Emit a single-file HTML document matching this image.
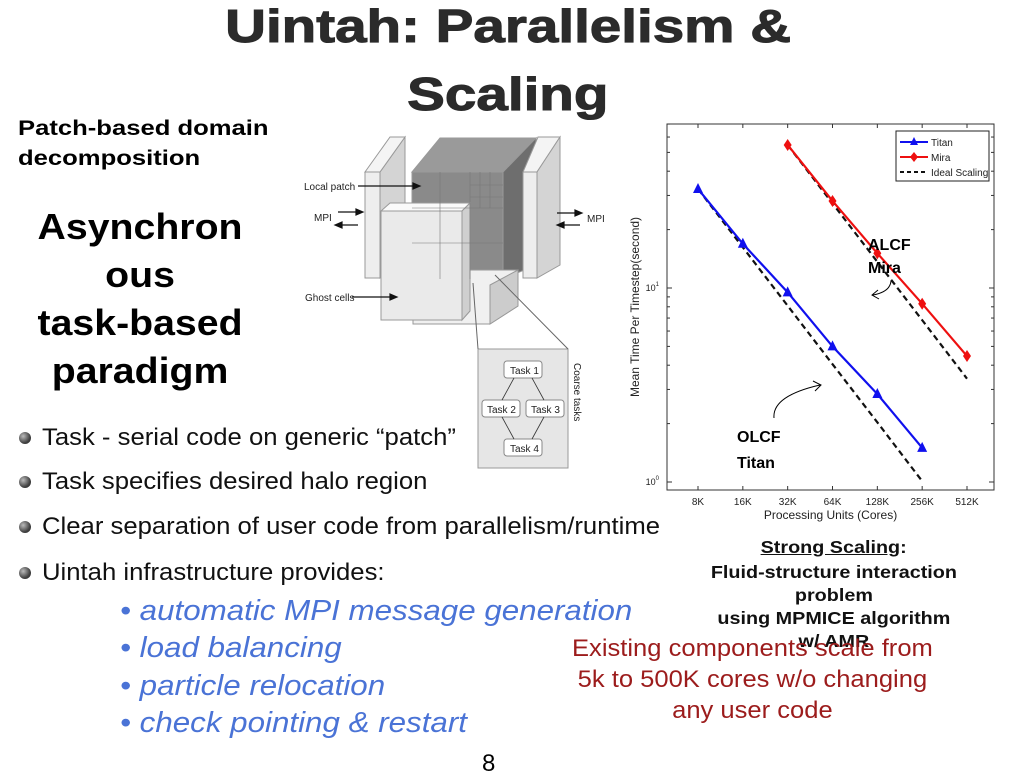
<!DOCTYPE html>
<html><head><meta charset="utf-8">
<style>
html,body{margin:0;padding:0;background:#fff;}
body{width:1024px;height:768px;position:relative;overflow:hidden;font-family:"Liberation Sans",Arial,sans-serif;}
.a{position:absolute;white-space:nowrap;}
.s{display:inline-block;}
.title{left:0;width:1016px;text-align:center;font-weight:bold;font-size:46px;color:#2b2b2b;-webkit-text-stroke:1px #2b2b2b;}
.title .s{transform:scaleX(1.23);transform-origin:center;}
.bul{font-size:24px;color:#111;left:42px;}
.bul .s{transform:scaleX(1.07);transform-origin:left;}
.dot{position:absolute;left:19px;width:12px;height:12px;border-radius:50%;background:radial-gradient(circle at 35% 35%,#bbb,#444 60%,#222);}
.sub{font-size:29px;font-style:italic;color:#4a73d6;left:120px;}
.sub .s{transform:scaleX(1.08);transform-origin:left;}
.cap{font-size:17.5px;font-weight:bold;color:#111;text-align:center;width:300px;left:684px;}
.cap .s{transform:scaleX(1.13);transform-origin:center;}
.red{font-size:24px;color:#9c1c1c;text-align:center;width:420px;left:542px;}
.red .s{transform:scaleX(1.065);transform-origin:center;}
</style></head><body>
<div class="a title" style="top:-1px"><span class="s">Uintah: Parallelism &amp;</span></div>
<div class="a title" style="top:67px"><span class="s">Scaling</span></div>
<div class="a" style="left:18px;top:114px;font-size:21px;font-weight:bold;line-height:30px"><span class="s" style="transform:scaleX(1.22);transform-origin:left">Patch-based domain<br>decomposition</span></div>
<div class="a" style="left:20px;width:240px;top:203px;font-size:36px;font-weight:bold;text-align:center;line-height:48px"><span class="s" style="transform:scaleX(1.09);transform-origin:center">Asynchron<br>ous<br>task-based<br>paradigm</span></div>

<div class="dot" style="top:432px"></div>
<div class="a bul" style="top:424px"><span class="s">Task - serial code on generic “patch”</span></div>
<div class="dot" style="top:476px"></div>
<div class="a bul" style="top:468px"><span class="s">Task specifies desired halo region</span></div>
<div class="dot" style="top:521px"></div>
<div class="a bul" style="top:513px"><span class="s">Clear separation of user code from parallelism/runtime</span></div>
<div class="dot" style="top:567px"></div>
<div class="a bul" style="top:559px"><span class="s">Uintah infrastructure provides:</span></div>
<div class="a sub" style="top:595px"><span class="s">• automatic MPI message generation</span></div>
<div class="a sub" style="top:632px"><span class="s">• load balancing</span></div>
<div class="a sub" style="top:670px"><span class="s">• particle relocation</span></div>
<div class="a sub" style="top:707px"><span class="s">• check pointing &amp; restart</span></div>
<div class="a" style="left:482px;top:750px;font-size:24px">8</div>

<div class="a cap" style="top:537px"><span class="s"><u>Strong Scaling</u>:</span></div>
<div class="a cap" style="top:561px;line-height:23px"><span class="s">Fluid-structure interaction<br>problem<br>using MPMICE algorithm<br>w/ AMR</span></div>
<div class="a red" style="top:633px;line-height:31px"><span class="s">Existing components scale from<br>5k to 500K cores w/o changing<br>any user code</span></div>

<svg class="a" style="left:290px;top:125px" width="330" height="350">
 <g stroke="#999" stroke-width="1">
  <polygon points="90,47 115,12 115,140 90,153" fill="#d4d4d4"/>
  <polygon points="75,47 90,47 90,153 75,153" fill="#eee"/>
  <polygon points="75,47 100,12 115,12 90,47" fill="#f4f4f4"/>
  <polygon points="122,47 150,13 246,13 213,47" fill="#9a9a9a"/>
  <polygon points="213,47 246,13 246,140 213,154" fill="#6e6e6e"/>
  <rect x="122" y="47" width="91" height="107" fill="#8a8a8a"/>
  <polygon points="123,145 228,145 228,181 200,199 123,199" fill="#f0f0f0"/>
  <polygon points="200,160 228,145 228,181 200,199" fill="#ccc"/>
  <polygon points="91,86 100,78 180,78 172,86" fill="#fafafa"/>
  <polygon points="172,86 180,78 180,186 172,195" fill="#cfcfcf"/>
  <rect x="91" y="86" width="81" height="109" fill="#eaeaea"/>
  <polygon points="233,47 248,12 270,12 247,47" fill="#f4f4f4"/>
  <polygon points="247,47 270,12 270,140 247,153" fill="#d4d4d4"/>
  <rect x="233" y="47" width="14" height="106" fill="#eee"/>
  <rect x="188" y="224" width="90" height="119" fill="#e6e6e6"/>
  <line x1="188" y1="224" x2="183" y2="158" stroke="#666"/>
  <line x1="278" y1="224" x2="205" y2="150" stroke="#666"/>
 </g>
 <g stroke="#777" stroke-width="0.6" fill="none">
  <path d="M150,47 V154 M180,47 V154 M122,83 H213 M122,118 H213 M180,60 H213 M180,72 H213 M190,47 V83 M200,47 V83"/>
 </g>
 <g fill="#fff" stroke="#888"><rect x="214" y="236" width="38" height="17" rx="3"/><rect x="192" y="275" width="38" height="17" rx="3"/><rect x="236" y="275" width="38" height="17" rx="3"/><rect x="214" y="314" width="38" height="17" rx="3"/></g>
 <g stroke="#333" stroke-width="0.8"><line x1="224" y1="253" x2="212" y2="275"/><line x1="242" y1="253" x2="254" y2="275"/><line x1="212" y1="292" x2="224" y2="314"/><line x1="254" y1="292" x2="242" y2="314"/></g>
 <g font-family="Liberation Sans" font-size="10" fill="#222">
  <text x="220" y="249">Task 1</text><text x="197" y="288">Task 2</text><text x="241" y="288">Task 3</text><text x="220" y="327">Task 4</text>
  <text x="14" y="65">Local patch</text><text x="24" y="96">MPI</text><text x="297" y="97">MPI</text><text x="15" y="176">Ghost cells</text>
  <text transform="translate(284,238) rotate(90)">Coarse tasks</text>
 </g>
 <g stroke="#111" stroke-width="1.2" fill="#111">
  <line x1="68" y1="61" x2="125" y2="61"/><polygon points="130,61 123,58 123,64"/>
  <line x1="48" y1="87" x2="68" y2="87"/><polygon points="73,87 66,84 66,90"/>
  <line x1="50" y1="100" x2="68" y2="100"/><polygon points="45,100 52,97 52,103"/>
  <line x1="267" y1="88" x2="287" y2="88"/><polygon points="292,88 285,85 285,91"/>
  <line x1="272" y1="100" x2="290" y2="100"/><polygon points="267,100 274,97 274,103"/>
  <line x1="62" y1="172" x2="102" y2="172"/><polygon points="107,172 100,169 100,175"/>
 </g>
</svg>

<svg id="chart" class="a" style="left:0;top:0" width="1024" height="768"></svg>
<script>
const categories=["8K","16K","32K","64K","128K","256K","512K"];
const titanValues=[32.4,16.9,9.5,5.0,2.84,1.50,null];
const miraValues=[null,null,54.6,28.1,15.1,8.3,4.46];
const idealTitan=[32.4,16.2,8.1,4.05,2.03,1.01,null];
const idealMira=[null,null,54.6,27.3,13.65,6.83,3.41];
const yTickExps=[0,1];
const NS="http://www.w3.org/2000/svg";
const svg=document.getElementById('chart');
const L=667,R=994,T=124,B=490;
const x0=698,dx=(967-698)/6;
const y0=482,dec=194;
function xs(i){return x0+i*dx;}
function ys(v){return y0-Math.log10(v)*dec;}
function mk(tag,attrs,parent){const e=document.createElementNS(NS,tag);for(const k in attrs)e.setAttribute(k,attrs[k]);(parent||svg).appendChild(e);return e;}
const frame=mk('rect',{x:L,y:T,width:R-L,height:B-T,fill:'#fff',stroke:'#333','stroke-width':1});


categories.forEach((c,i)=>{
 const x=xs(i);
 mk('line',{x1:x,y1:B,x2:x,y2:B-4,stroke:'#333'});
 mk('line',{x1:x,y1:T,x2:x,y2:T+4,stroke:'#333'});
 const t=mk('text',{x:x,y:B+15,'text-anchor':'middle','font-size':10,'font-family':'Liberation Sans',fill:'#222'});
 t.textContent=c;
 
 
});
for(let d=-1;d<=1;d++){for(let m=1;m<10;m++){const v=m*Math.pow(10,d);const y=ys(v);if(y<T||y>B)continue;const len=m===1?5:3;
 mk('line',{x1:L,y1:y,x2:L+len,y2:y,stroke:'#333'});mk('line',{x1:R,y1:y,x2:R-len,y2:y,stroke:'#333'});}}
yTickExps.forEach(e=>{const y=ys(Math.pow(10,e));
 const t=mk('text',{x:L-8,y:y+3,'text-anchor':'end','font-size':9,'font-family':'Liberation Sans',fill:'#222'});
 t.textContent='10';
 const s=mk('tspan',{dy:-5,'font-size':6},t);s.textContent=String(e);
 
 
});
const xt=mk('text',{x:(L+R)/2,y:B+29,'text-anchor':'middle','font-size':12,'font-family':'Liberation Sans',fill:'#222'});
xt.textContent='Processing Units (Cores)';


const yt=mk('text',{transform:`translate(${L-28},${(T+B)/2}) rotate(-90)`,'text-anchor':'middle','font-size':12,'font-family':'Liberation Sans',fill:'#222'});
yt.textContent='Mean Time Per Timestep(second)';


function pts(arr){return arr.map((v,i)=>v==null?null:[xs(i),ys(v)]).filter(p=>p);}
function line(arr,color,dash,name){const p=pts(arr);const e=mk('polyline',{points:p.map(q=>q.join(',')).join(' '),fill:'none',stroke:color,'stroke-width':2.2,'stroke-dasharray':dash||'none'});
 
 return p;}
line(idealTitan,'#111','6,4','ideal-titan-line');
line(idealMira,'#111','6,4','ideal-mira-line');
line(titanValues,'#1010ee',null,'titan-line').forEach(p=>{
 const m=mk('polygon',{points:`${p[0]},${p[1]-6} ${p[0]-5},${p[1]+4} ${p[0]+5},${p[1]+4}`,fill:'#1010ee'});
 
 
});
line(miraValues,'#ee1010',null,'mira-line').forEach(p=>{
 const m=mk('polygon',{points:`${p[0]},${p[1]-6} ${p[0]-4},${p[1]} ${p[0]},${p[1]+6} ${p[0]+4},${p[1]}`,fill:'#ee1010'});
 
 
});
const lg=mk('g',{});


mk('rect',{x:896,y:131,width:93,height:50,fill:'#fff',stroke:'#222'},lg);
[['Titan','#1010ee',null,142],['Mira','#ee1010',null,157],['Ideal Scaling','#111','4,3',172]].forEach(r=>{
 mk('line',{x1:900,y1:r[3],x2:928,y2:r[3],stroke:r[1],'stroke-width':2,'stroke-dasharray':r[2]||'none'},lg);
 const t=mk('text',{x:931,y:r[3]+4,'font-size':10,'font-family':'Liberation Sans',fill:'#222'},lg);t.textContent=r[0];
 
 
});
mk('polygon',{points:'914,137 910,145 918,145',fill:'#1010ee'},lg);
mk('polygon',{points:'914,152 910,157 914,162 918,157',fill:'#ee1010'},lg);
const a1=mk('text',{x:868,y:250,'font-size':16,'font-weight':'bold','font-family':'Liberation Sans',fill:'#000'});a1.textContent='ALCF';
const a2=mk('text',{x:868,y:273,'font-size':16,'font-weight':'bold','font-family':'Liberation Sans',fill:'#000'});a2.textContent='Mira';
const a3=mk('text',{x:737,y:442,'font-size':16,'font-weight':'bold','font-family':'Liberation Sans',fill:'#000'});a3.textContent='OLCF';
const a4=mk('text',{x:737,y:468,'font-size':16,'font-weight':'bold','font-family':'Liberation Sans',fill:'#000'});a4.textContent='Titan';
[a1,a2,a3,a4].forEach(a=>{});
mk('path',{d:'M891,281 Q890,292 873,295 M878,290 L872,295 L879,299',fill:'none',stroke:'#000','stroke-width':1});
mk('path',{d:'M774,418 Q772,396 820,385 M813,381 L821,385 L815,391',fill:'none',stroke:'#000','stroke-width':1});
</script>
</body></html>
